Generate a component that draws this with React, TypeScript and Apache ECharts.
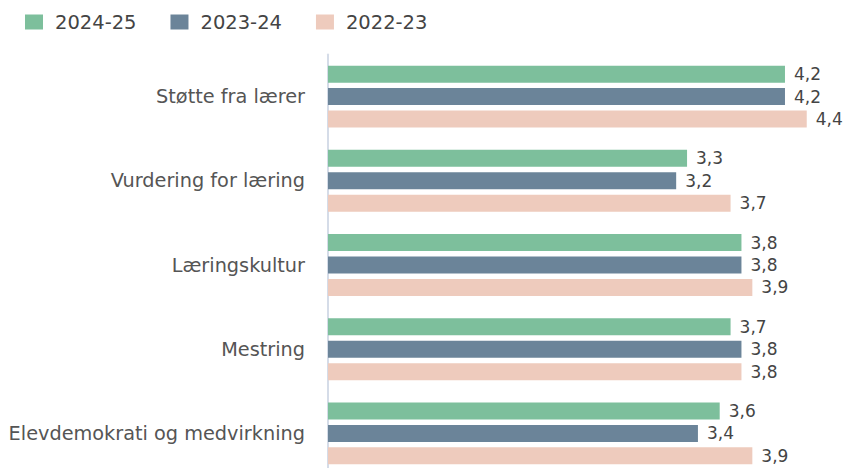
import React, { useEffect, useRef } from "react";
import * as echarts from "echarts";

const categories = [
  "Støtte fra lærer",
  "Vurdering for læring",
  "Læringskultur",
  "Mestring",
  "Elevdemokrati og medvirkning",
];
const seriesNames = ["2024-25", "2023-24", "2022-23"];
const values2024 = [4.2, 3.3, 3.8, 3.7, 3.6];
const values2023 = [4.2, 3.2, 3.8, 3.8, 3.4];
const values2022 = [4.4, 3.7, 3.9, 3.8, 3.9];
const colors = ["#7dbf9c", "#6b8499", "#eecbbd"];

export default function App() {
  const ref = useRef<HTMLDivElement>(null);
  useEffect(() => {
    if (!ref.current) return;
    const chart = echarts.init(ref.current, undefined, { renderer: "svg" });
    const data = [values2024, values2023, values2022];
    chart.setOption({
      animation: false,
      textStyle: { fontFamily: "DejaVu Sans" },
      legend: {
        left: 25,
        top: 12,
        padding: 0,
        icon: "rect",
        itemWidth: 18,
        itemHeight: 15,
        itemGap: 34,
        textStyle: {
          fontSize: 19.5,
          color: "#444",
          fontFamily: "DejaVu Sans",
          padding: [0, 0, 0, 7],
        },
        data: seriesNames,
      },
      grid: {
        left: 328,
        width: 500.5,
        top: 54.5,
        height: 421,
        containLabel: false,
        outerBoundsMode: "none",
      },
      xAxis: {
        type: "value",
        min: 0,
        max: 4.6,
        show: false,
      },
      yAxis: {
        type: "category",
        inverse: true,
        data: categories,
        axisLine: { show: true, lineStyle: { color: "#d5dce8", width: 2 } },
        axisTick: { show: false },
        axisLabel: { fontSize: 19.3, color: "#555", margin: 23, fontFamily: "DejaVu Sans" },
      },
      series: seriesNames.map((name, i) => ({
        name,
        type: "bar",
        data: data[i],
        barWidth: 17,
        barGap: "32%",
        itemStyle: { color: colors[i] },
        label: {
          show: true,
          position: "right",
          distance: 9,
          fontSize: 17,
          color: "#444",
          fontFamily: "DejaVu Sans",
          formatter: (p: any) => String(p.value).replace(".", ","),
        },
      })),
    });
    return () => chart.dispose();
  }, []);
  return <div ref={ref} style={{ width: 846, height: 468, position: "absolute", left: 0, top: 0 }} />;
}
